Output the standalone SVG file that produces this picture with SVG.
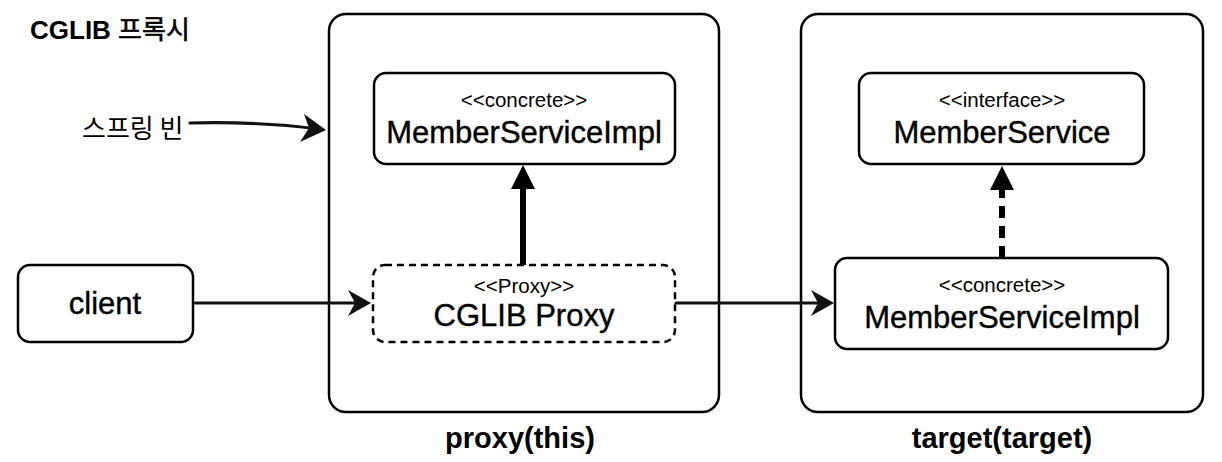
<svg xmlns="http://www.w3.org/2000/svg" width="1222" height="462" viewBox="0 0 1222 462">
<style>
  .box { fill: #fff; stroke: #000; stroke-width: 2.5; }
  .container { fill: #fff; stroke: #000; stroke-width: 2.5; }
  .dash { fill: #fff; stroke: #000; stroke-width: 2.5; stroke-dasharray: 7 5; }
  .t { font-family: "Liberation Sans", Arial, sans-serif; fill: #000; text-anchor: middle; }
  .stereo { font-size: 20.5px; }
  .name { font-size: 31px; stroke: #000; stroke-width: 0.4; }
  .label { font-size: 29px; font-weight: bold; }
  .sketch { fill: none; stroke: #111; stroke-width: 3.2; stroke-linecap: round; }
  .head { fill: #111; }
</style>

<g id="title">
  <text x="30" y="39" font-family="'Liberation Sans', 'Noto Sans CJK KR', sans-serif" font-size="26" font-weight="bold">CGLIB <tspan font-weight="normal" stroke="#000" stroke-width="0.6">프록시</tspan></text>
</g>

<g id="proxy-container">
  <rect class="container" x="329" y="14" width="390" height="398" rx="17"/>
  <text class="t label" x="520" y="448">proxy(this)</text>
</g>

<g id="target-container">
  <rect class="container" x="801" y="14" width="402" height="398" rx="17"/>
  <text class="t label" x="1002" y="448">target(target)</text>
</g>

<g id="spring-bean-label">
  <text x="82" y="138" font-family="'Noto Sans CJK KR', sans-serif" font-size="26">스프링 빈</text>
</g>

<g id="proxy-impl">
  <rect class="box" x="374" y="73" width="301" height="91" rx="12"/>
  <text class="t stereo" x="524" y="107">&lt;&lt;concrete&gt;&gt;</text>
  <text class="t name" x="524" y="143">MemberServiceImpl</text>
</g>

<g id="cglib-proxy">
  <rect class="dash" x="373" y="265" width="302" height="77" rx="12"/>
  <text class="t stereo" x="524" y="293">&lt;&lt;Proxy&gt;&gt;</text>
  <text class="t name" x="524" y="326">CGLIB Proxy</text>
</g>

<g id="client">
  <rect class="box" x="18" y="265" width="175" height="77" rx="12"/>
  <text class="t name" x="105" y="314">client</text>
</g>

<g id="member-service">
  <rect class="box" x="859" y="73" width="285" height="91" rx="12"/>
  <text class="t stereo" x="1002" y="107">&lt;&lt;interface&gt;&gt;</text>
  <text class="t name" x="1002" y="143">MemberService</text>
</g>

<g id="target-impl">
  <rect class="box" x="835" y="258" width="333" height="91" rx="12"/>
  <text class="t stereo" x="1002" y="292">&lt;&lt;concrete&gt;&gt;</text>
  <text class="t name" x="1002" y="328">MemberServiceImpl</text>
</g>

<g id="connectors">
  <path class="sketch" d="M190 123 C 230 122, 280 124, 318 129"/>
  <polygon class="head" points="326,130 304,114 309,128 300,142"/>
  <path class="sketch" d="M195 303 L 362 303"/>
  <polygon class="head" points="371,303 348,290 355,303 348,316"/>
  <path class="sketch" d="M676 303 L 824 303"/>
  <polygon class="head" points="834,303 811,290 818,303 811,316"/>
  <line x1="523" y1="265" x2="523" y2="186" stroke="#000" stroke-width="6"/>
  <polygon points="523,165 511,189 535,189" fill="#000"/>
  <line x1="1002" y1="258" x2="1002" y2="190" stroke="#000" stroke-width="6" stroke-dasharray="12 8"/>
  <polygon points="1002,166 990,190 1014,190" fill="#000"/>
</g>
</svg>
